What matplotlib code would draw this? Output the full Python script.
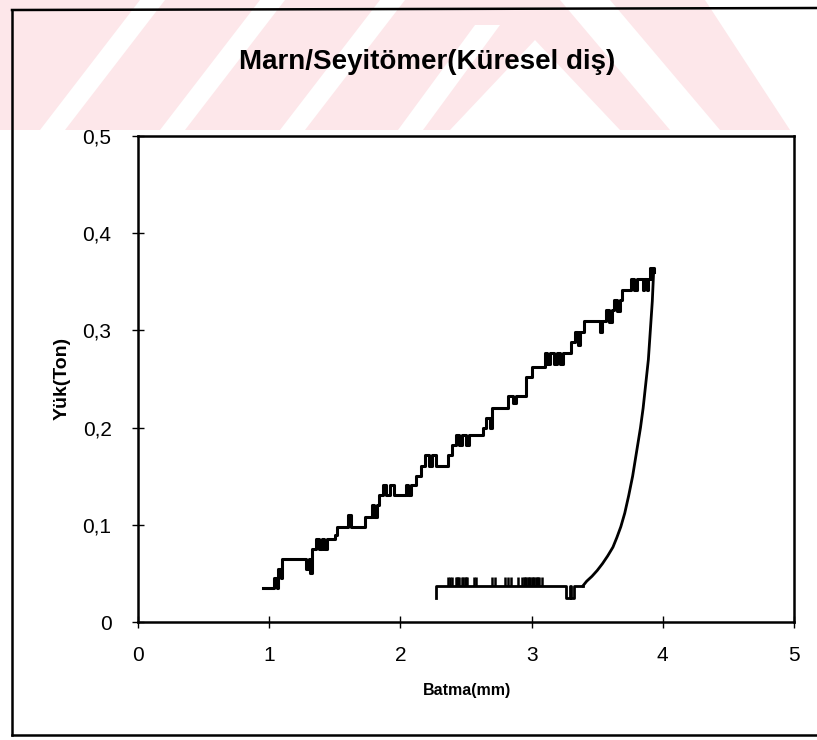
import matplotlib
matplotlib.use("Agg")
import matplotlib.pyplot as plt

# ---------------- data ----------------
title = "Marn/Seyitömer(Küresel diş)"
xlabel = "Batma(mm)"
ylabel = "Yük(Ton)"
x_ticks = [0, 1, 2, 3, 4, 5]
y_ticks = [0, 0.1, 0.2, 0.3, 0.4, 0.5]
y_tick_labels = ["0", "0,1", "0,2", "0,3", "0,4", "0,5"]

# loading branch (stepped record)
load_x = [0.95, 1.04, 1.06, 1.07, 1.09, 1.10, 1.28, 1.30, 1.31, 1.33, 1.36, 1.38,
          1.40, 1.42, 1.44, 1.50, 1.52, 1.60, 1.62, 1.73, 1.78, 1.80, 1.82, 1.84,
          1.87, 1.89, 1.92, 1.95, 2.04, 2.06, 2.08, 2.12, 2.16, 2.19, 2.22, 2.24,
          2.27, 2.36, 2.39, 2.42, 2.45, 2.47, 2.50, 2.52, 2.63, 2.65, 2.68, 2.70,
          2.82, 2.86, 2.88, 2.96, 3.00, 3.10, 3.12, 3.14, 3.17, 3.19, 3.22, 3.24,
          3.30, 3.33, 3.35, 3.37, 3.40, 3.52, 3.54, 3.57, 3.59, 3.61, 3.63, 3.65,
          3.67, 3.69, 3.76, 3.78, 3.80, 3.85, 3.86, 3.88, 3.89, 3.90, 3.91, 3.92, 3.93]
load_y = [0.035, 0.045, 0.035, 0.055, 0.045, 0.065, 0.055, 0.065, 0.050, 0.075, 0.085, 0.075,
          0.085, 0.075, 0.085, 0.090, 0.098, 0.110, 0.098, 0.108, 0.120, 0.108, 0.120, 0.131,
          0.141, 0.131, 0.141, 0.131, 0.141, 0.131, 0.141, 0.150, 0.160, 0.172, 0.160, 0.172,
          0.160, 0.172, 0.182, 0.192, 0.182, 0.192, 0.182, 0.192, 0.200, 0.210, 0.200, 0.220,
          0.233, 0.225, 0.233, 0.252, 0.262, 0.277, 0.265, 0.277, 0.265, 0.277, 0.265, 0.277,
          0.288, 0.298, 0.285, 0.298, 0.310, 0.298, 0.310, 0.321, 0.309, 0.321, 0.331, 0.320,
          0.331, 0.342, 0.353, 0.342, 0.353, 0.342, 0.353, 0.342, 0.353, 0.364, 0.353, 0.364, 0.360]

# unloading branch (curve)
unload_x = [3.93, 3.92, 3.905, 3.89, 3.87, 3.85, 3.83, 3.80, 3.77, 3.74, 3.71, 3.68,
            3.65, 3.62, 3.58, 3.54, 3.50, 3.46, 3.42, 3.39]
unload_y = [0.360, 0.330, 0.300, 0.270, 0.245, 0.220, 0.200, 0.175, 0.150, 0.130, 0.112, 0.098,
            0.087, 0.077, 0.068, 0.060, 0.053, 0.047, 0.042, 0.037]

# unloading tail (flat part)
tail_x = [3.39, 3.32, 3.30, 3.29, 3.26, 2.27]
tail_y = [0.037, 0.025, 0.037, 0.025, 0.037, 0.025]
spike_x = [2.36, 2.38, 2.39, 2.42, 2.43, 2.44, 2.45, 2.47, 2.48, 2.49, 2.50, 2.51,
           2.56, 2.58, 2.70, 2.72, 2.80, 2.82, 2.84, 2.90, 2.93, 2.94, 2.95, 2.96,
           2.97, 2.98, 2.99, 3.00, 3.01, 3.02, 3.03, 3.04, 3.05, 3.06, 3.08]
spike_low = 0.037
spike_high = 0.046

# ---------------- figure ----------------
W, H = 817, 740
fig = plt.figure(figsize=(W / 100, H / 100), dpi=100)
fig.patch.set_facecolor("white")

# background (watermark + outer frame) in pixel coordinates
bg = fig.add_axes([0, 0, 1, 1], zorder=-1)
bg.set_xlim(0, W)
bg.set_ylim(H, 0)
bg.axis("off")
pink = "#fde7ea"
bg.fill([0, W, W, 0], [0, 0, 130, 130], color=pink, lw=0)
white_polys = [
    ([40, 65, 165, 140], [130, 130, 0, 0]),
    ([160, 185, 285, 260], [130, 130, 0, 0]),
    ([280, 305, 405, 380], [130, 130, 0, 0]),
    ([398, 423, 500, 475], [130, 130, 25, 25]),
    ([535, 450, 620], [40, 130, 130]),
    ([560, 610, 720, 670], [0, 0, 130, 130]),
    ([705, W, W, 790], [0, 0, 130, 130]),
]
for xs, ys in white_polys:
    bg.fill(xs, ys, color="white", lw=0)
bg.plot([12, 12], [10, 735], color="black", lw=1.8)
bg.plot([12, W], [10, 8], color="black", lw=1.8)
bg.plot([12, W], [735, 735], color="black", lw=1.8)

font = "Liberation Sans"
fig.text(427 / W, 1 - 62 / H, title, ha="center", va="center",
         fontsize=20, fontweight="bold", family=font)

ax = fig.add_axes([138 / W, 1 - 622 / H, (794 - 138) / W, (622 - 136) / H])
ax.set_facecolor("white")
ax.plot(load_x, load_y, drawstyle="steps-post", color="black", lw=2.2)
ax.plot(unload_x, unload_y, color="black", lw=2.0)
ax.plot(tail_x, tail_y, drawstyle="steps-post", color="black", lw=2.0)
ax.vlines(spike_x, spike_low, spike_high, color="black", lw=1.8)

ax.set_xlim(0, 5)
ax.set_ylim(0, 0.5)
ax.set_xticks(x_ticks)
ax.set_xticklabels([str(v) for v in x_ticks])
ax.set_yticks(y_ticks)
ax.set_yticklabels(y_tick_labels)
for s in ax.spines.values():
    s.set_linewidth(1.8)
ax.tick_params(direction="inout", length=8, width=1.0, labelsize=15, colors="black")
ax.tick_params(axis="x", pad=13)
ax.tick_params(axis="y", pad=15)
for lab in ax.get_xticklabels() + ax.get_yticklabels():
    lab.set_family(font)

fig.text(467 / W, 1 - 690 / H, xlabel, ha="center", va="center",
         fontsize=11.5, fontweight="bold", family=font)
fig.text(62 / W, 1 - 378 / H, ylabel, ha="center", va="center", rotation=90,
         fontsize=14, fontweight="bold", family=font)

fig.savefig("out.png", dpi=100)
